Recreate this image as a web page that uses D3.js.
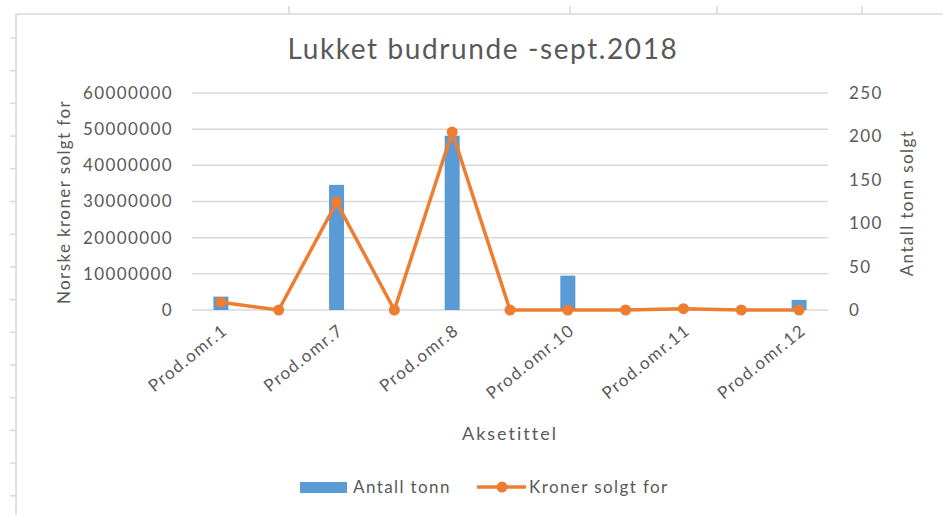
<!DOCTYPE html>
<html>
<head>
<meta charset="utf-8">
<script src="https://cdn.jsdelivr.net/npm/d3@7"></script>
<style>
  html, body { margin: 0; padding: 0; background: #fff; }
  svg text { font-family: Lato, "Open Sans", sans-serif; fill: #595959; letter-spacing: 1.4px; }
</style>
</head>
<body>
<div id="chart"></div>
<script>
// Data
const categories = ['Prod.omr.1', 'Prod.omr.6', 'Prod.omr.7', 'Prod.omr.3', 'Prod.omr.8', 'Prod.omr.9',
  'Prod.omr.10', 'Prod.omr.2', 'Prod.omr.11', 'Prod.omr.4', 'Prod.omr.12'];
const antallTonn = [3700000, 0, 34600000, 0, 48200000, 0, 9500000, 0, 0, 0, 2800000];
const kronerSolgt = [9, 0, 124, 0, 205, 0, 0, 0, 1.5, 0, 0];
const leftTicks = [0, 10000000, 20000000, 30000000, 40000000, 50000000, 60000000];
const rightTicks = [0, 50, 100, 150, 200, 250];

const w = 943, h = 515;
const plot = { left: 192, right: 828, top: 93, bottom: 310 };
const blue = '#5B9BD5', orange = '#ED7D31', grid = '#d9d9d9';

const svg = d3.select('#chart').append('svg')
  .attr('width', w)
  .attr('height', h);

// spreadsheet frame behind the chart
svg.append('path')
  .attr('d', `M16,${h} V14 H${w}`)
  .attr('fill', 'none')
  .attr('stroke', grid)
  .attr('stroke-width', 1.5);
[289, 570, 717, 862].forEach(x => {
  svg.append('line').attr('x1', x).attr('x2', x).attr('y1', 6).attr('y2', 14)
    .attr('stroke', grid).attr('stroke-width', 1.5);
});
for (let y = 38; y < h; y += 32.7) {
  svg.append('line').attr('x1', 10).attr('x2', 16).attr('y1', y).attr('y2', y)
    .attr('stroke', grid).attr('stroke-width', 1.5);
}

// Scales
const x = d3.scaleBand()
  .domain(categories)
  .range([plot.left, plot.right]);

const yLeft = d3.scaleLinear()
  .domain([0, 60000000])
  .range([plot.bottom, plot.top]);

const yRight = d3.scaleLinear()
  .domain([0, 250])
  .range([plot.bottom, plot.top]);

// Gridlines
svg.append('g')
  .selectAll('line')
  .data(leftTicks)
  .enter()
  .append('line')
  .attr('x1', plot.left)
  .attr('x2', plot.right)
  .attr('y1', d => yLeft(d))
  .attr('y2', d => yLeft(d))
  .attr('stroke', grid)
  .attr('stroke-width', 1.5);

// Axes
const leftAxis = d3.axisLeft(yLeft).tickValues(leftTicks).tickSize(0).tickPadding(19).tickFormat(d => String(d));
const gl = svg.append('g')
  .attr('transform', `translate(${plot.left}, 0)`)
  .call(leftAxis);

const rightAxis = d3.axisRight(yRight).tickValues(rightTicks).tickSize(0).tickPadding(21).tickFormat(d => String(d));
const gr = svg.append('g')
  .attr('transform', `translate(${plot.right}, 0)`)
  .call(rightAxis);

const xAxis = d3.axisBottom(x)
  .tickSize(0)
  .tickFormat((d, i) => i % 2 === 0 ? d : '');
const gx = svg.append('g')
  .attr('transform', `translate(0, ${plot.bottom})`)
  .call(xAxis);

[gl, gr, gx].forEach(g => {
  g.select('.domain').remove();
  g.selectAll('text').attr('font-size', 17).style('font-family', 'Lato, sans-serif').attr('fill', '#595959');
});
gx.selectAll('text')
  .attr('text-anchor', 'end')
  .attr('dy', 0)
  .attr('transform', 'translate(6, 20) rotate(-39)');

// Bars
svg.append('g')
  .selectAll('rect')
  .data(antallTonn)
  .enter()
  .append('rect')
  .attr('x', (d, i) => x(categories[i]) + x.bandwidth() / 2 - 7.5)
  .attr('y', d => yLeft(d))
  .attr('width', 15)
  .attr('height', d => plot.bottom - yLeft(d))
  .attr('fill', blue);

// Line with markers
const line = d3.line()
  .x((d, i) => x(categories[i]) + x.bandwidth() / 2)
  .y(d => yRight(d));

svg.append('path')
  .datum(kronerSolgt)
  .attr('d', line)
  .attr('fill', 'none')
  .attr('stroke', orange)
  .attr('stroke-width', 3.5)
  .attr('stroke-linejoin', 'round');

svg.append('g')
  .selectAll('circle')
  .data(kronerSolgt)
  .enter()
  .append('circle')
  .attr('cx', (d, i) => x(categories[i]) + x.bandwidth() / 2)
  .attr('cy', d => yRight(d))
  .attr('r', 5.5)
  .attr('fill', orange);

// Titles
svg.append('text')
  .attr('x', 483)
  .attr('y', 59)
  .attr('text-anchor', 'middle')
  .attr('font-size', 28)
  .style('letter-spacing', '1.6px')
  .text('Lukket budrunde -sept.2018');

svg.append('text')
  .attr('transform', 'translate(70, 202) rotate(-90)')
  .attr('text-anchor', 'middle')
  .attr('font-size', 17)
  .text('Norske kroner solgt for');

svg.append('text')
  .attr('transform', 'translate(913, 203) rotate(-90)')
  .attr('text-anchor', 'middle')
  .attr('font-size', 17)
  .text('Antall tonn solgt');

svg.append('text')
  .attr('x', 510)
  .attr('y', 440)
  .attr('text-anchor', 'middle')
  .attr('font-size', 18)
  .style('letter-spacing', '2px')
  .text('Aksetittel');

// Legend
const legend = svg.append('g');
legend.append('rect')
  .attr('x', 300).attr('y', 482)
  .attr('width', 47).attr('height', 11)
  .attr('fill', blue);
legend.append('text')
  .attr('x', 353).attr('y', 493)
  .attr('font-size', 17)
  .text('Antall tonn');
legend.append('line')
  .attr('x1', 477).attr('x2', 526)
  .attr('y1', 487).attr('y2', 487)
  .attr('stroke', orange).attr('stroke-width', 3.5);
legend.append('circle')
  .attr('cx', 502).attr('cy', 487).attr('r', 5.5)
  .attr('fill', orange);
legend.append('text')
  .attr('x', 529).attr('y', 493)
  .attr('font-size', 17)
  .text('Kroner solgt for');
</script>
</body>
</html>
